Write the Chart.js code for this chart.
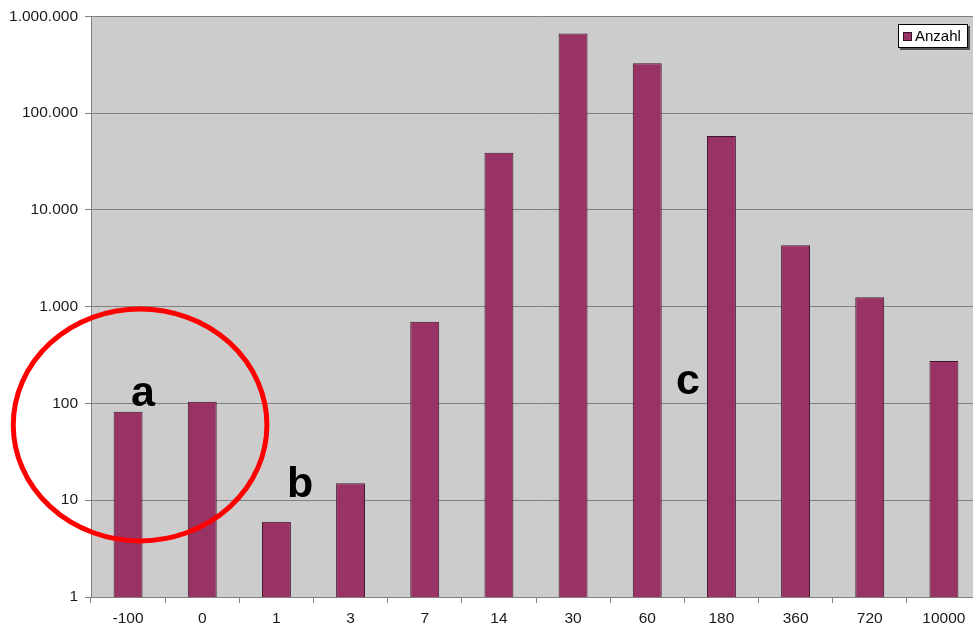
<!DOCTYPE html>
<html>
<head>
<meta charset="utf-8">
<script src="https://cdn.jsdelivr.net/npm/chart.js@4"></script>
<style>
  html, body { margin: 0; padding: 0; background: #fff; overflow: hidden; }
  #wrap { width: 981px; height: 627px; }
</style>
</head>
<body>
<div id="wrap"><canvas id="chart"></canvas></div>
<script>
const categories = ['-100', '0', '1', '3', '7', '14', '30', '60', '180', '360', '720', '10000'];
const anzahl = [82, 104, 6, 15, 700, 39000, 665000, 327000, 58000, 4300, 1250, 274];
const yTicks = [1, 10, 100, 1000, 10000, 100000, 1000000];
const seriesName = 'Anzahl';

// Tausenderpunkte wie im Original
const fmt = v => String(v).replace(/\B(?=(\d{3})+(?!\d))/g, '.');

const plotBg = {
  id: 'plotBg',
  beforeDraw(chart) {
    const { ctx, chartArea: a } = chart;
    ctx.save();
    ctx.fillStyle = '#cccccc';
    ctx.fillRect(a.left, a.top, a.right - a.left, a.bottom - a.top);
    ctx.restore();
  }
};

const extras = {
  id: 'extras',
  afterDraw(chart) {
    const { ctx } = chart;
    const x = chart.scales.x, y = chart.scales.y;
    const step = x.getPixelForValue(1) - x.getPixelForValue(0);

    // Legende
    ctx.save();
    const lx = 898, ly = 24, lw = 70, lh = 24;
    ctx.fillStyle = '#555';
    ctx.fillRect(lx + 2, ly + 2, lw, lh);
    ctx.fillStyle = '#fff';
    ctx.fillRect(lx, ly, lw, lh);
    ctx.strokeStyle = '#000';
    ctx.lineWidth = 1;
    ctx.strokeRect(lx + 0.5, ly + 0.5, lw - 1, lh - 1);
    ctx.fillStyle = '#993366';
    ctx.fillRect(lx + 5, ly + 8, 9, 9);
    ctx.strokeStyle = '#3a1026';
    ctx.strokeRect(lx + 5.5, ly + 8.5, 8, 8);
    ctx.fillStyle = '#000';
    ctx.font = '15px "Liberation Sans", Arial, sans-serif';
    ctx.textBaseline = 'middle';
    ctx.fillText(seriesName, lx + 17, ly + 13);
    ctx.restore();

    // Roter Kreis um a
    ctx.save();
    ctx.strokeStyle = '#ff0000';
    ctx.lineWidth = 5;
    ctx.beginPath();
    ctx.ellipse(x.getPixelForValue(0) + 12, y.getPixelForValue(60), step * 1.71, 116, 0, 0, Math.PI * 2);
    ctx.stroke();
    ctx.restore();

    // Buchstaben
    ctx.save();
    ctx.fillStyle = '#000';
    ctx.font = 'bold 43px "Liberation Sans", Arial, sans-serif';
    ctx.textAlign = 'center';
    ctx.textBaseline = 'alphabetic';
    ctx.fillText('a', x.getPixelForValue(0.2), y.getPixelForValue(95));
    ctx.fillText('b', x.getPixelForValue(2.32), y.getPixelForValue(10.7));
    ctx.fillText('c', x.getPixelForValue(7.55), y.getPixelForValue(126));
    ctx.restore();
  }
};

new Chart(document.getElementById('chart'), {
  type: 'bar',
  data: {
    labels: categories,
    datasets: [{
      label: seriesName,
      data: anzahl,
      backgroundColor: '#993366',
      borderColor: '#3e1428',
      borderWidth: 1,
      borderSkipped: 'bottom',
      categoryPercentage: 1,
      barPercentage: 0.39
    }]
  },
  options: {
    responsive: true,
    maintainAspectRatio: false,
    animation: false,
    layout: { padding: { top: 12, right: 0, left: 0, bottom: 0 } },
    plugins: {
      legend: { display: false },
      tooltip: { enabled: false }
    },
    scales: {
      x: {
        grid: { drawOnChartArea: false, drawTicks: true, tickLength: 6, color: '#808080', offset: true },
        border: { color: '#808080', width: 1 },
        ticks: {
          color: '#1a1a1a', padding: 6, maxRotation: 0, autoSkip: false,
          font: { family: '"Liberation Sans", Arial, sans-serif', size: 15.5 }
        },
        afterFit(s) { s.height = 30; }
      },
      y: {
        type: 'logarithmic',
        min: 1,
        max: 1000000,
        grid: { color: '#808080', lineWidth: 1, tickLength: 6, drawTicks: true },
        border: { color: '#808080', width: 1 },
        afterBuildTicks(s) { s.ticks = yTicks.map(v => ({ value: v, major: false })); },
        ticks: {
          color: '#1a1a1a', padding: 7,
          font: { family: '"Liberation Sans", Arial, sans-serif', size: 15.5 },
          callback: v => fmt(v)
        },
        afterFit(s) { s.width = 91; }
      }
    }
  },
  plugins: [plotBg, extras]
});
</script>
</body>
</html>
